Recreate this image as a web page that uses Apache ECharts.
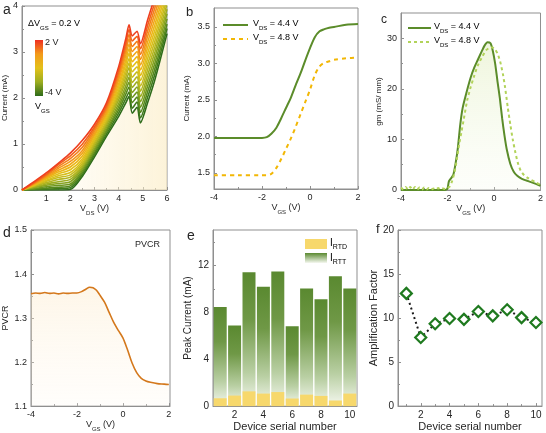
<!DOCTYPE html>
<html><head><meta charset="utf-8">
<script src="https://cdn.jsdelivr.net/npm/echarts@6/dist/echarts.min.js"></script>
<style>html,body{margin:0;padding:0;background:#fff}#c{width:546px;height:433px}</style>
</head><body><div id="c"></div>
<script>
// ---------- Panel a : output curves, one row per V_GS ----------
const vdsA = [0, 0.5, 1, 1.5, 2, 2.5, 3, 3.5, 4, 4.3, 4.43, 4.56, 4.76, 4.9, 5.2, 5.5, 6];
const vgsA = [-4.0, -3.6, -3.2, -2.8, -2.4, -2.0, -1.6, -1.2, -0.8, -0.4, 0.0, 0.4, 0.8, 1.2, 1.6, 2.0];
const currentA = [
  [0, 0, 0, 0, 0.01, 0.3, 0.72, 1.17, 1.6, 1.9, 2.03, 1.67, 1.8, 1.46, 1.9, 2.4, 3.4],
  [0, 0.01, 0.02, 0.03, 0.05, 0.34, 0.77, 1.22, 1.67, 1.99, 2.13, 1.78, 1.91, 1.57, 2.02, 2.52, 3.51],
  [0, 0.02, 0.04, 0.06, 0.09, 0.38, 0.81, 1.27, 1.74, 2.09, 2.24, 1.9, 2.02, 1.69, 2.14, 2.64, 3.61],
  [0, 0.03, 0.07, 0.1, 0.13, 0.42, 0.86, 1.31, 1.81, 2.18, 2.34, 2.01, 2.13, 1.8, 2.26, 2.76, 3.72],
  [0, 0.05, 0.1, 0.14, 0.18, 0.46, 0.9, 1.36, 1.88, 2.27, 2.45, 2.12, 2.24, 1.92, 2.38, 2.88, 3.83],
  [0, 0.06, 0.13, 0.18, 0.23, 0.5, 0.95, 1.41, 1.96, 2.37, 2.55, 2.23, 2.35, 2.03, 2.5, 3.0, 3.93],
  [0, 0.08, 0.16, 0.23, 0.28, 0.54, 1.0, 1.46, 2.03, 2.46, 2.66, 2.34, 2.46, 2.15, 2.62, 3.12, 4.04],
  [0, 0.09, 0.19, 0.27, 0.33, 0.58, 1.04, 1.5, 2.1, 2.55, 2.76, 2.45, 2.57, 2.26, 2.74, 3.24, 4.15],
  [0, 0.1, 0.21, 0.31, 0.38, 0.63, 1.09, 1.55, 2.17, 2.64, 2.86, 2.57, 2.68, 2.38, 2.86, 3.36, 4.25],
  [0, 0.11, 0.24, 0.35, 0.44, 0.68, 1.13, 1.6, 2.24, 2.74, 2.97, 2.68, 2.79, 2.49, 2.98, 3.48, 4.36],
  [0, 0.12, 0.26, 0.39, 0.5, 0.74, 1.18, 1.65, 2.31, 2.83, 3.07, 2.79, 2.9, 2.61, 3.1, 3.6, 4.47],
  [0, 0.13, 0.28, 0.43, 0.56, 0.8, 1.22, 1.69, 2.39, 2.93, 3.17, 2.9, 3.01, 2.72, 3.22, 3.72, 4.57],
  [0, 0.14, 0.3, 0.47, 0.62, 0.86, 1.27, 1.74, 2.46, 3.02, 3.28, 3.01, 3.12, 2.84, 3.34, 3.84, 4.68],
  [0, 0.15, 0.32, 0.51, 0.68, 0.93, 1.32, 1.79, 2.53, 3.11, 3.38, 3.12, 3.23, 2.95, 3.46, 3.96, 4.79],
  [0, 0.16, 0.34, 0.55, 0.74, 1.0, 1.37, 1.84, 2.6, 3.2, 3.49, 3.24, 3.34, 3.07, 3.58, 4.08, 4.89],
  [0, 0.18, 0.37, 0.58, 0.8, 1.08, 1.43, 1.9, 2.68, 3.3, 3.59, 3.35, 3.45, 3.18, 3.7, 4.2, 5.0]
];
const xTicksA = [1, 2, 3, 4, 5, 6];
const xMinorA = [0.5, 1.5, 2.5, 3.5, 4.5, 5.5];
const yTicksA = [0, 1, 2, 3, 4];
const yMinorA = [0.5, 1.5, 2.5, 3.5];

// ---------- Panel b : transfer curves ----------
const vgsB = [-4, -3, -2, -1.8, -1.6, -1.4, -1.2, -1, -0.8, -0.6, -0.4, -0.2, 0, 0.2, 0.4, 0.6, 0.8, 1, 1.5, 2];
const currentB44 = [1.98, 1.98, 1.98, 1.99, 2.04, 2.12, 2.25, 2.39, 2.53, 2.7, 2.86, 3.04, 3.21, 3.36, 3.44, 3.47, 3.49, 3.5, 3.53, 3.54];
const currentB48 = [1.47, 1.47, 1.47, 1.47, 1.49, 1.57, 1.69, 1.83, 1.97, 2.13, 2.3, 2.47, 2.64, 2.84, 2.96, 3.01, 3.03, 3.05, 3.07, 3.08];
const yTicksB = [1.5, 2.0, 2.5, 3.0, 3.5];
const yMinorB = [1.75, 2.25, 2.75, 3.25];
const xTicksGS = [-4, -2, 0, 2];
const xMinorGS = [-3, -1, 1];

// ---------- Panel c : transconductance ----------
const vgsC44 = [-4, -3, -2.1, -2, -1.94, -1.85, -1.75, -1.65, -1.55, -1.45, -1.35, -1.2, -1.0, -0.85, -0.7, -0.55, -0.4, -0.28, -0.15, -0.05, 0.05, 0.15, 0.25, 0.35, 0.45, 0.55, 0.7, 0.85, 1.0, 1.2, 1.5, 1.8, 2.0];
const gm44 = [0, 0, 0, 0.3, 1.7, 2.3, 3.0, 5.3, 8.5, 13, 16.2, 19, 22.3, 24.2, 25.7, 27.2, 28.6, 29.2, 29.0, 27.5, 25, 21.5, 18.2, 14.2, 10.8, 8, 5.2, 3.6, 2.8, 2.2, 1.7, 1.2, 0.85];
const vgsC48 = [-4, -3.9, -3.8, -3.7, -3.6, -3.5, -3.4, -3.3, -3.2, -3.1, -3.0, -2.9, -2.8, -2.7, -2.6, -2.5, -2.4, -2.3, -2.2, -2.1, -2.0, -1.9, -1.8, -1.7, -1.6, -1.5, -1.4, -1.3, -1.15, -1.0, -0.85, -0.7, -0.5, -0.35, -0.2, -0.07, 0.05, 0.16, 0.27, 0.38, 0.48, 0.59, 0.7, 0.81, 0.92, 1.03, 1.15, 1.3, 1.45, 1.6, 1.8, 2.0];
const gm48 = [0.5, 0.1, 0.6, 0.1, 0.6, 0.1, 0.6, 0.1, 0.5, 0.1, 0.5, 0.1, 0.4, 0.1, 0.3, 0.1, 0.4, 0.1, 0.3, 0.2, 0.4, 0.7, 1.8, 3.5, 6, 9, 11.5, 14, 17.8, 20.4, 22.6, 24.6, 26.4, 27.6, 28.1, 28.2, 27.8, 26.9, 25.3, 23, 20.2, 16.4, 13, 9.9, 7.4, 5.3, 3.8, 2.9, 2.4, 2.0, 1.5, 1.0];
const yTicksC = [0, 10, 20, 30];
const yMinorC = [5, 15, 25];

// ---------- Panel d : PVCR ----------
const vgsD = [-4, -3.8, -3.6, -3.4, -3.2, -3, -2.8, -2.6, -2.4, -2.2, -2, -1.8, -1.6, -1.45, -1.3, -1.15, -1.0, -0.8, -0.6, -0.4, -0.2, 0, 0.2, 0.4, 0.6, 0.8, 1.0, 1.2, 1.5, 1.8, 2.0];
const pvcrD = [1.355, 1.357, 1.356, 1.358, 1.356, 1.357, 1.355, 1.357, 1.356, 1.357, 1.357, 1.36, 1.366, 1.37, 1.369, 1.363, 1.352, 1.336, 1.313, 1.29, 1.272, 1.255, 1.228, 1.198, 1.176, 1.163, 1.157, 1.154, 1.151, 1.15, 1.149];
const yTicksD = [1.1, 1.2, 1.3, 1.4, 1.5];
const yMinorD = [1.15, 1.25, 1.35, 1.45];

// ---------- Panel e : peak currents ----------
const deviceNo = [1, 2, 3, 4, 5, 6, 7, 8, 9, 10];
const peakRTT = [8.48, 6.88, 11.43, 10.2, 11.5, 6.83, 10.06, 9.13, 11.1, 10.06];
const peakRTD = [0.67, 0.9, 1.26, 1.07, 1.2, 0.65, 0.98, 0.87, 0.48, 1.07];
const yTicksE = [0, 4, 8, 12];
const yMinorE = [2, 6, 10, 14];
const xTicksDev = [2, 4, 6, 8, 10];
const xMinorDev = [1, 3, 5, 7, 9];

// ---------- Panel f : amplification factor ----------
const ampF = [12.8, 7.8, 9.35, 9.95, 9.85, 10.75, 10.25, 10.95, 10.05, 9.5];
const yTicksF = [0, 5, 10, 15, 20];
const yMinorF = [2.5, 7.5, 12.5, 17.5];

// ================= styling / layout =================
const FONT = '"Liberation Sans", Arial, sans-serif';
const TXT = '#262626';
const AX = '#8f8f8f';
const palA = ['#2e6b1a','#3f7a1c','#55881e','#6c961f','#85a220','#9cad20','#b3b51f','#c6bb1d','#d6bf1b','#e3bf19','#ebb618','#f0a818','#f39619','#f37f1a','#f2621c','#ee3f1f'];

function rich(fs) {
  return {
    n: {fontSize: fs, color: TXT, fontFamily: FONT},
    s: {fontSize: Math.round(fs * 0.7), color: TXT, fontFamily: FONT, verticalAlign: 'bottom', padding: [0, 0, -3, 0]}
  };
}
function axis(gi, o) {
  const base = {
    type: 'value', gridIndex: gi,
    axisLine: {show: true, onZero: false, lineStyle: {color: AX, width: 1}},
    axisTick: {show: true, inside: true, length: 3, lineStyle: {color: AX}},
    minorTick: {show: false},
    splitLine: {show: false},
    axisLabel: {fontSize: 9, color: TXT, fontFamily: FONT, margin: 4},
    nameLocation: 'middle',
    nameTextStyle: {fontSize: 9, color: TXT, fontFamily: FONT, rich: rich(9)}
  };
  for (const k in o) {
    if (base[k] && typeof base[k] === 'object' && !Array.isArray(base[k]) && typeof o[k] === 'object' && !Array.isArray(o[k])) {
      base[k] = Object.assign({}, base[k], o[k]);
    } else base[k] = o[k];
  }
  return base;
}
function custom(vals, fmt) {
  return {
    axisLabel: {fontSize: 9, color: TXT, fontFamily: FONT, margin: 4, customValues: vals, formatter: fmt},
    axisTick: {show: true, inside: true, length: 3, lineStyle: {color: AX}, customValues: vals}
  };
}
// minor-tick-only axis sharing the same grid and range
function minorAxis(gi, min, max, vals, pos) {
  return {
    type: 'value', gridIndex: gi, min: min, max: max, position: pos,
    axisLine: {show: false, onZero: false}, splitLine: {show: false},
    axisLabel: {show: false, customValues: vals},
    axisTick: {show: true, inside: true, length: 2, lineStyle: {color: AX}, customValues: vals}
  };
}
const grids = [
  {left: 20, top: 6, width: 147, height: 184},
  {left: 214, top: 8, width: 144, height: 181},
  {left: 401, top: 13, width: 140, height: 177},
  {left: 27, top: 230, width: 143, height: 177},
  {left: 213, top: 230, width: 144, height: 178},
  {left: 398, top: 230, width: 144, height: 178}
].map(g => Object.assign(g, {show: true, borderColor: AX, borderWidth: 1, backgroundColor: 'transparent'}));

const subName = (a, b, c) => '{n|' + a + '}{s|' + b + '}{n|' + c + '}';
const devName = {fontSize: 11, color: TXT, fontFamily: FONT};

const xAxes = [
  axis(0, Object.assign({min: 0, max: 6, name: subName('V', 'DS', ' (V)'), nameGap: 11}, custom(xTicksA))),
  axis(1, Object.assign({min: -4, max: 2, name: subName('V', 'GS', ' (V)'), nameGap: 11}, custom(xTicksGS))),
  axis(2, Object.assign({min: -4, max: 2, name: subName('V', 'GS', ' (V)'), nameGap: 11}, custom(xTicksGS))),
  axis(3, Object.assign({min: -4, max: 2.05, name: subName('V', 'GS', ' (V)'), nameGap: 11}, custom(xTicksGS))),
  axis(4, Object.assign({min: 0.5, max: 10.5, name: 'Device serial number', nameGap: 12, nameTextStyle: devName}, custom(xTicksDev))),
  axis(5, Object.assign({min: 0.42, max: 10.42, name: 'Device serial number', nameGap: 12, nameTextStyle: devName}, custom(xTicksDev)))
];
xAxes.forEach(a => { a.position = 'bottom'; a.axisLabel.fontSize = a.gridIndex >= 4 ? 10 : 9; });
const yAxes = [
  axis(0, Object.assign({min: 0, max: 4, name: 'Current (mA)', nameGap: 13,
    nameTextStyle: {fontSize: 8, color: TXT, fontFamily: FONT}}, custom(yTicksA))),
  axis(1, Object.assign({min: 1.28, max: 3.76, name: 'Current (mA)', nameGap: 23,
    nameTextStyle: {fontSize: 8, color: TXT, fontFamily: FONT}}, custom(yTicksB, v => v.toFixed(1)))),
  axis(2, Object.assign({min: 0, max: 35, name: 'gm (mS/ mm)', nameGap: 17,
    nameTextStyle: {fontSize: 8, color: TXT, fontFamily: FONT}}, custom(yTicksC))),
  axis(3, Object.assign({min: 1.1, max: 1.5, name: 'PVCR', nameGap: 21,
    nameTextStyle: {fontSize: 9, color: TXT, fontFamily: FONT}}, custom(yTicksD, v => v.toFixed(1)))),
  axis(4, Object.assign({min: 0, max: 15.05, name: 'Peak Current (mA)', nameGap: 20,
    nameTextStyle: {fontSize: 10, color: TXT, fontFamily: FONT}}, custom(yTicksE))),
  axis(5, Object.assign({min: 0, max: 20, name: 'Amplification Factor', nameGap: 17,
    nameTextStyle: {fontSize: 11, color: TXT, fontFamily: FONT}}, custom(yTicksF)))
];
yAxes.forEach(a => { a.position = 'left'; if (a.gridIndex >= 4) a.axisLabel.fontSize = 10; });

// minor tick axes (indices 6..11)
xAxes.push(
  minorAxis(0, 0, 6, xMinorA, 'bottom'), minorAxis(1, -4, 2, xMinorGS, 'bottom'),
  minorAxis(2, -4, 2, xMinorGS, 'bottom'), minorAxis(3, -4, 2.05, xMinorGS, 'bottom'),
  minorAxis(4, 0.5, 10.5, xMinorDev, 'bottom'), minorAxis(5, 0.42, 10.42, xMinorDev, 'bottom'));
yAxes.push(
  minorAxis(0, 0, 4, yMinorA, 'left'), minorAxis(1, 1.28, 3.76, yMinorB, 'left'),
  minorAxis(2, 0, 35, yMinorC, 'left'), minorAxis(3, 1.1, 1.5, yMinorD, 'left'),
  minorAxis(4, 0, 15.05, yMinorE, 'left'), minorAxis(5, 0, 20, yMinorF, 'left'));

const series = [];
// panel a
currentA.forEach((row, k) => {
  const s = {
    type: 'line', name: 'VGS ' + vgsA[k], xAxisIndex: 0, yAxisIndex: 0,
    data: vdsA.map((x, i) => [x, row[i]]), symbol: 'none', smooth: 0.25,
    lineStyle: {color: palA[k], width: 1.6}, z: 3 + k, clip: true
  };
  if (k === 0) {
    s.areaStyle = {color: new echarts.graphic.LinearGradient(0, 0, 1, 0, [
      {offset: 0, color: 'rgba(255,244,215,0.0)'},
      {offset: 0.6, color: 'rgba(253,240,205,0.6)'},
      {offset: 1, color: 'rgba(251,236,195,0.9)'}])};
  }
  series.push(s);
});
// panel b
series.push({type: 'line', name: 'b44', xAxisIndex: 1, yAxisIndex: 1, symbol: 'none', smooth: 0.3,
  data: vgsB.map((x, i) => [x, currentB44[i]]), lineStyle: {color: '#5b8c2a', width: 2}});
series.push({type: 'line', name: 'b48', xAxisIndex: 1, yAxisIndex: 1, symbol: 'none', smooth: 0.3,
  data: vgsB.map((x, i) => [x, currentB48[i]]), lineStyle: {color: '#f2b705', width: 2, type: [4, 4]}});
// panel c
series.push({type: 'line', name: 'c44', xAxisIndex: 2, yAxisIndex: 2, symbol: 'none', smooth: 0.2,
  data: vgsC44.map((x, i) => [x, gm44[i]]), lineStyle: {color: '#5b8c2a', width: 2},
  areaStyle: {color: new echarts.graphic.LinearGradient(0, 0, 0, 1, [
    {offset: 0, color: 'rgba(222,236,185,0.7)'}, {offset: 1, color: 'rgba(245,250,232,0.3)'}])}});
series.push({type: 'line', name: 'c48', xAxisIndex: 2, yAxisIndex: 2, symbol: 'none', smooth: 0.2,
  data: vgsC48.map((x, i) => [x, gm48[i]]), lineStyle: {color: '#b2d35a', width: 2, type: [3, 3]}});
// panel d
series.push({type: 'line', name: 'pvcr', xAxisIndex: 3, yAxisIndex: 3, symbol: 'none', smooth: 0.3,
  data: vgsD.map((x, i) => [x, pvcrD[i]]), lineStyle: {color: '#d4781c', width: 1.6},
  areaStyle: {color: new echarts.graphic.LinearGradient(0, 0, 0, 1, [
    {offset: 0, color: 'rgba(252,232,196,0.55)'}, {offset: 1, color: 'rgba(255,248,236,0.3)'}])}});
// panel e
const greenBar = new echarts.graphic.LinearGradient(0, 0, 0, 1, [
  {offset: 0, color: '#5a8930'}, {offset: 0.35, color: '#6f9846'},
  {offset: 0.75, color: '#b9cfa3'}, {offset: 1, color: '#f5f8f0'}]);
series.push({type: 'bar', name: 'IRTT', xAxisIndex: 4, yAxisIndex: 4, barWidth: 13, barGap: '-100%',
  data: deviceNo.map((d, i) => [d, peakRTT[i]]), itemStyle: {color: greenBar}});
series.push({type: 'bar', name: 'IRTD', xAxisIndex: 4, yAxisIndex: 4, barWidth: 13, barGap: '-100%',
  data: deviceNo.map((d, i) => [d, peakRTD[i]]), itemStyle: {color: '#f7d86c'}});
// panel f
series.push({type: 'line', name: 'amp', xAxisIndex: 5, yAxisIndex: 5, symbol: 'diamond', symbolSize: 11,
  data: deviceNo.map((d, i) => [d, ampF[i]]),
  lineStyle: {color: '#1a1a1a', width: 2, type: [2, 3]},
  itemStyle: {color: '#ffffff', borderColor: '#1f7a1f', borderWidth: 2.2}, z: 5});

const T = (x, y, t, fs) => ({type: 'text', left: x, top: y,
  style: {text: t, fontSize: fs, fill: TXT, fontFamily: FONT}});
const R = (x, y, t, fs) => ({type: 'text', left: x, top: y, style: {text: t, rich: rich(fs), fontFamily: FONT}});
const L = (x1, x2, y, color, dash) => ({type: 'line', shape: {x1: x1, y1: y, x2: x2, y2: y},
  style: {stroke: color, lineWidth: 2, lineDash: dash || null}});

const option = {
  animation: false,
  grid: grids, xAxis: xAxes, yAxis: yAxes, series: series,
  graphic: [
    T(3, 3, 'a', 14), T(186, 6, 'b', 13), T(381, 14, 'c', 12),
    T(3, 226, 'd', 14), T(187, 229, 'e', 14), T(376, 223, 'f', 13),
    R(28, 19, '{n|ΔV}{s|GS}{n| = 0.2 V}', 9),
    {type: 'rect', shape: {x: 35, y: 40, width: 8, height: 56}, style: {fill: new echarts.graphic.LinearGradient(0, 0, 0, 1, [
      {offset: 0, color: '#ee2f22'}, {offset: 0.25, color: '#f39a1a'}, {offset: 0.5, color: '#e3c11a'},
      {offset: 0.75, color: '#9cad20'}, {offset: 1, color: '#2e6b1a'}])}},
    T(45, 38, '2 V', 9), T(45, 88, '-4 V', 9),
    R(35, 102, '{n|V}{s|GS}', 9),
    // legend b
    L(223, 248, 25, '#5b8c2a'), R(253, 19, subName('V', 'DS', ' = 4.4 V'), 9),
    L(223, 248, 39, '#f2b705', [4, 4]), R(253, 33, subName('V', 'DS', ' = 4.8 V'), 9),
    // legend c
    L(408, 431, 28, '#5b8c2a'), R(434, 22, subName('V', 'DS', ' = 4.4 V'), 9),
    L(408, 431, 42, '#b2d35a', [3, 3]), R(434, 36, subName('V', 'DS', ' = 4.8 V'), 9),
    T(135, 240, 'PVCR', 9),
    // legend e
    {type: 'rect', shape: {x: 305, y: 239, width: 22, height: 10}, style: {fill: '#f7d86c'}},
    {type: 'rect', shape: {x: 305, y: 253, width: 22, height: 10}, style: {fill: new echarts.graphic.LinearGradient(0, 0, 0, 1, [
      {offset: 0, color: '#5a8930'}, {offset: 1, color: '#f5f8f0'}])}},
    R(330, 238, '{n|I}{s|RTD}', 10),
    R(330, 253, '{n|I}{s|RTT}', 10)
  ]
};
const chart = echarts.init(document.getElementById('c'), null, {renderer: 'canvas', width: 546, height: 433});
chart.setOption(option);
</script></body></html>
